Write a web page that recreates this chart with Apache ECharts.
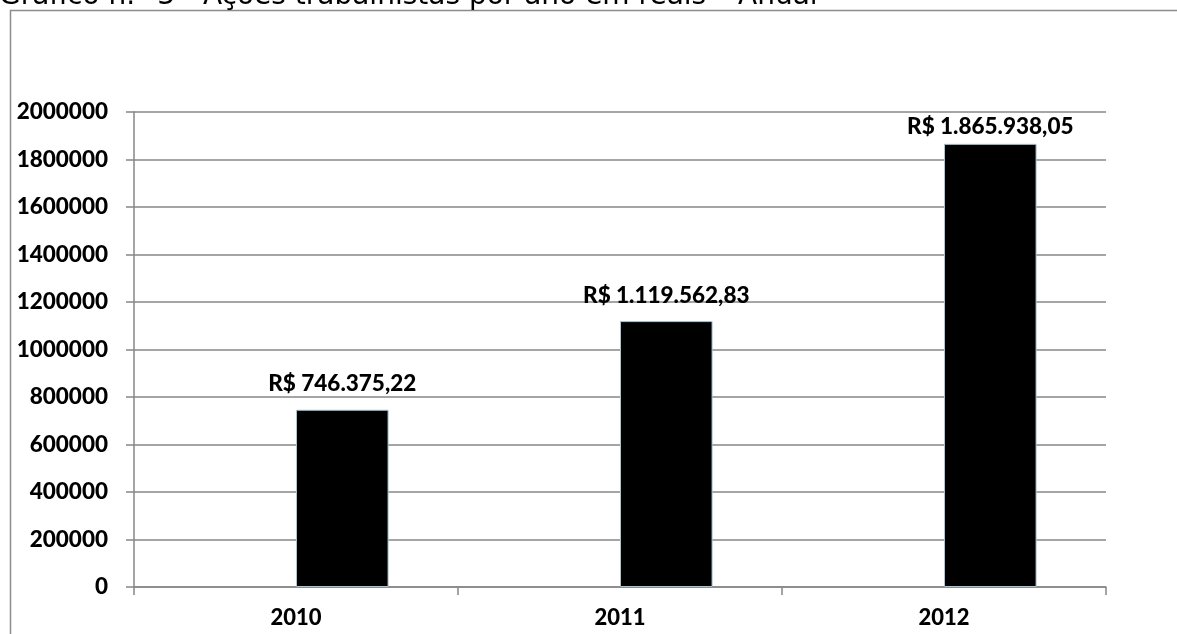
<!DOCTYPE html>
<html>
<head>
<meta charset="utf-8">
<script src="https://cdn.jsdelivr.net/npm/echarts@6/dist/echarts.min.js"></script>
<style>
  html, body { margin: 0; padding: 0; background: #fff; }
  #chart { width: 1177px; height: 634px; }
</style>
</head>
<body>
<div id="chart"></div>
<script>
// Ações trabalhistas por ano (R$)
const years = ['2010', '2011', '2012'];
const amounts = [746375.22, 1119562.83, 1865938.05];
const placeholder = [null, null, null];
const yTickMax = 2000000;
const yTickStep = 200000;
const titleText = 'Gráfico n.º 3 - Ações trabalhistas por ano em reais – Anual';

function formatBRL(v) {
  const parts = v.toFixed(2).split('.');
  const intPart = parts[0].replace(/\B(?=(\d{3})+(?!\d))/g, '.');
  return 'R$ ' + intPart + ',' + parts[1];
}

const gridColor = '#878787';
const labelFont = 'Lato';
const labelWeight = 900;

// the tallest bar keeps its label tucked under the plot's top edge
const barData = amounts.map(v => ({
  value: v,
  label: { distance: v > 0.9 * yTickMax ? 6 : 14 }
}));

const chart = echarts.init(document.getElementById('chart'), null, { renderer: 'canvas' });
chart.setOption({
  animation: false,
  backgroundColor: '#ffffff',
  graphic: [
    {
      type: 'rect',
      shape: { x: 10.5, y: 10.5, width: 1175, height: 700 },
      style: { fill: 'none', stroke: '#8c8c8c', lineWidth: 1.5 },
      silent: true
    },
    {
      type: 'text',
      x: -1,
      y: -17,
      style: {
        text: titleText,
        fontFamily: 'DejaVu Sans',
        fontSize: 28,
        fill: '#000',
        verticalAlign: 'top'
      },
      silent: true
    }
  ],
  grid: { left: 134, right: 71, top: 112, bottom: 47 },
  xAxis: {
    type: 'category',
    data: years,
    axisLine: { lineStyle: { color: gridColor, width: 1.5 } },
    axisTick: { show: true, length: 8, lineStyle: { color: gridColor, width: 1.5 } },
    axisLabel: { fontFamily: labelFont, fontWeight: labelWeight, fontSize: 22, color: '#000', margin: 20 }
  },
  yAxis: {
    type: 'value',
    min: 0,
    max: yTickMax,
    interval: yTickStep,
    axisLine: { show: true, lineStyle: { color: gridColor, width: 1.5 } },
    axisTick: { show: true, length: 8, lineStyle: { color: gridColor, width: 1.5 } },
    splitLine: { lineStyle: { color: gridColor, width: 1.5 } },
    axisLabel: {
      fontFamily: labelFont, fontWeight: labelWeight, fontSize: 22.5, color: '#000', margin: 26,
      formatter: v => String(v)
    }
  },
  series: [
    {
      type: 'bar',
      data: placeholder,
      barGap: '0%',
      barCategoryGap: '42.86%'
    },
    {
      type: 'bar',
      data: barData,
      barGap: '0%',
      barCategoryGap: '42.86%',
      itemStyle: { color: '#000000', borderColor: '#a9c4d2', borderWidth: 1 },
      label: {
        show: true,
        position: 'top',
        fontFamily: labelFont,
        fontWeight: labelWeight,
        fontSize: 22.5,
        color: '#000',
        formatter: p => formatBRL(p.value)
      }
    }
  ]
});
</script>
</body>
</html>
